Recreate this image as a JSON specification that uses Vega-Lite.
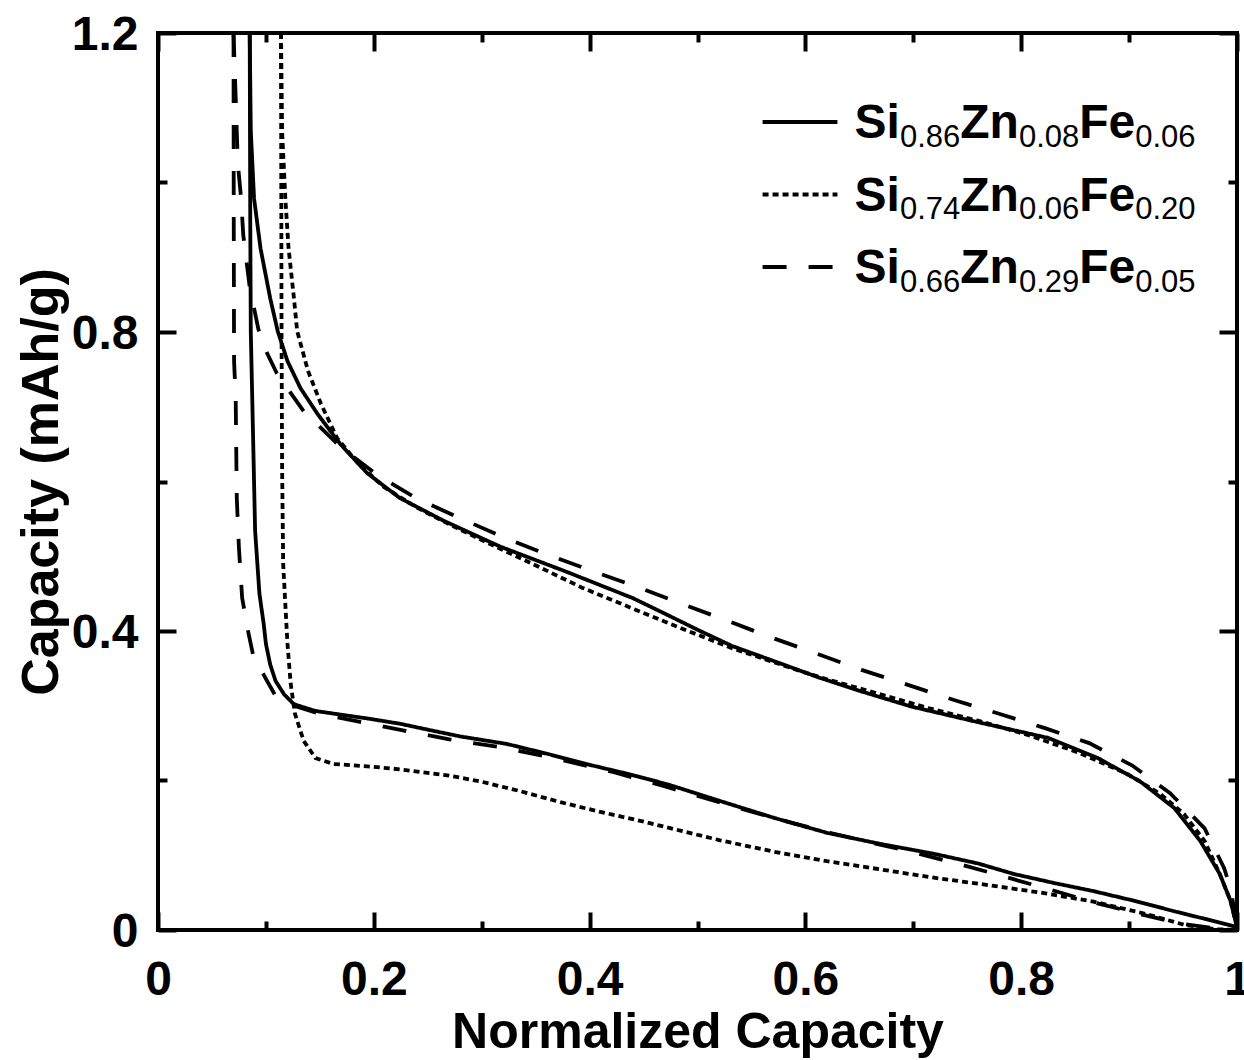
{
  "$schema": "https://vega.github.io/schema/vega-lite/v6.json",
  "width": 1079,
  "height": 897,
  "autosize": {"type": "none"},
  "padding": {"left": 158, "top": 33, "right": 7, "bottom": 130},
  "background": "white",
  "config": {
    "view": {"stroke": "black", "strokeWidth": 4},
    "font": "Liberation Sans",
    "axis": {
      "grid": false, "domain": false,
      "labelFont": "Liberation Sans", "labelFontWeight": "bold", "labelFontSize": 48, "labelColor": "black",
      "titleFont": "Liberation Sans", "titleFontWeight": "bold", "titleFontSize": 50, "titleColor": "black",
      "tickColor": "black", "tickWidth": 4, "labelFlush": false, "labelOverlap": false, "format": "~g"
    }
  },
  "datasets": {
    "curves": [
      {"series":"Si0.86Zn0.08Fe0.06","branch":"discharge","x":0.0850,"y":1.2},
      {"series":"Si0.86Zn0.08Fe0.06","branch":"discharge","x":0.0855,"y":0.95},
      {"series":"Si0.86Zn0.08Fe0.06","branch":"discharge","x":0.0860,"y":0.80},
      {"series":"Si0.86Zn0.08Fe0.06","branch":"discharge","x":0.0880,"y":0.668},
      {"series":"Si0.86Zn0.08Fe0.06","branch":"discharge","x":0.0900,"y":0.534},
      {"series":"Si0.86Zn0.08Fe0.06","branch":"discharge","x":0.0940,"y":0.45},
      {"series":"Si0.86Zn0.08Fe0.06","branch":"discharge","x":0.0980,"y":0.409},
      {"series":"Si0.86Zn0.08Fe0.06","branch":"discharge","x":0.1000,"y":0.383},
      {"series":"Si0.86Zn0.08Fe0.06","branch":"discharge","x":0.1040,"y":0.355},
      {"series":"Si0.86Zn0.08Fe0.06","branch":"discharge","x":0.1090,"y":0.333},
      {"series":"Si0.86Zn0.08Fe0.06","branch":"discharge","x":0.1170,"y":0.315},
      {"series":"Si0.86Zn0.08Fe0.06","branch":"discharge","x":0.1260,"y":0.302},
      {"series":"Si0.86Zn0.08Fe0.06","branch":"discharge","x":0.1460,"y":0.293},
      {"series":"Si0.86Zn0.08Fe0.06","branch":"discharge","x":0.1700,"y":0.288},
      {"series":"Si0.86Zn0.08Fe0.06","branch":"discharge","x":0.1940,"y":0.283},
      {"series":"Si0.86Zn0.08Fe0.06","branch":"discharge","x":0.2240,"y":0.276},
      {"series":"Si0.86Zn0.08Fe0.06","branch":"discharge","x":0.2500,"y":0.268},
      {"series":"Si0.86Zn0.08Fe0.06","branch":"discharge","x":0.2800,"y":0.259},
      {"series":"Si0.86Zn0.08Fe0.06","branch":"discharge","x":0.3230,"y":0.249},
      {"series":"Si0.86Zn0.08Fe0.06","branch":"discharge","x":0.3600,"y":0.236},
      {"series":"Si0.86Zn0.08Fe0.06","branch":"discharge","x":0.3970,"y":0.222},
      {"series":"Si0.86Zn0.08Fe0.06","branch":"discharge","x":0.4350,"y":0.209},
      {"series":"Si0.86Zn0.08Fe0.06","branch":"discharge","x":0.4720,"y":0.195},
      {"series":"Si0.86Zn0.08Fe0.06","branch":"discharge","x":0.5200,"y":0.173},
      {"series":"Si0.86Zn0.08Fe0.06","branch":"discharge","x":0.5710,"y":0.150},
      {"series":"Si0.86Zn0.08Fe0.06","branch":"discharge","x":0.6200,"y":0.130},
      {"series":"Si0.86Zn0.08Fe0.06","branch":"discharge","x":0.6700,"y":0.115},
      {"series":"Si0.86Zn0.08Fe0.06","branch":"discharge","x":0.7190,"y":0.102},
      {"series":"Si0.86Zn0.08Fe0.06","branch":"discharge","x":0.7600,"y":0.089},
      {"series":"Si0.86Zn0.08Fe0.06","branch":"discharge","x":0.7930,"y":0.075},
      {"series":"Si0.86Zn0.08Fe0.06","branch":"discharge","x":0.8300,"y":0.063},
      {"series":"Si0.86Zn0.08Fe0.06","branch":"discharge","x":0.8670,"y":0.052},
      {"series":"Si0.86Zn0.08Fe0.06","branch":"discharge","x":0.9050,"y":0.039},
      {"series":"Si0.86Zn0.08Fe0.06","branch":"discharge","x":0.9420,"y":0.025},
      {"series":"Si0.86Zn0.08Fe0.06","branch":"discharge","x":0.9700,"y":0.015},
      {"series":"Si0.86Zn0.08Fe0.06","branch":"discharge","x":1.0000,"y":0.004},
      {"series":"Si0.86Zn0.08Fe0.06","branch":"charge","x":0.0850,"y":1.2},
      {"series":"Si0.86Zn0.08Fe0.06","branch":"charge","x":0.0860,"y":1.069},
      {"series":"Si0.86Zn0.08Fe0.06","branch":"charge","x":0.0890,"y":0.979},
      {"series":"Si0.86Zn0.08Fe0.06","branch":"charge","x":0.0950,"y":0.912},
      {"series":"Si0.86Zn0.08Fe0.06","branch":"charge","x":0.1040,"y":0.845},
      {"series":"Si0.86Zn0.08Fe0.06","branch":"charge","x":0.1110,"y":0.801},
      {"series":"Si0.86Zn0.08Fe0.06","branch":"charge","x":0.1200,"y":0.761},
      {"series":"Si0.86Zn0.08Fe0.06","branch":"charge","x":0.1320,"y":0.725},
      {"series":"Si0.86Zn0.08Fe0.06","branch":"charge","x":0.1480,"y":0.690},
      {"series":"Si0.86Zn0.08Fe0.06","branch":"charge","x":0.1690,"y":0.650},
      {"series":"Si0.86Zn0.08Fe0.06","branch":"charge","x":0.1940,"y":0.611},
      {"series":"Si0.86Zn0.08Fe0.06","branch":"charge","x":0.2240,"y":0.578},
      {"series":"Si0.86Zn0.08Fe0.06","branch":"charge","x":0.2640,"y":0.548},
      {"series":"Si0.86Zn0.08Fe0.06","branch":"charge","x":0.3170,"y":0.513},
      {"series":"Si0.86Zn0.08Fe0.06","branch":"charge","x":0.3790,"y":0.479},
      {"series":"Si0.86Zn0.08Fe0.06","branch":"charge","x":0.4400,"y":0.444},
      {"series":"Si0.86Zn0.08Fe0.06","branch":"charge","x":0.4700,"y":0.423},
      {"series":"Si0.86Zn0.08Fe0.06","branch":"charge","x":0.5010,"y":0.401},
      {"series":"Si0.86Zn0.08Fe0.06","branch":"charge","x":0.5320,"y":0.380},
      {"series":"Si0.86Zn0.08Fe0.06","branch":"charge","x":0.5780,"y":0.356},
      {"series":"Si0.86Zn0.08Fe0.06","branch":"charge","x":0.6120,"y":0.338},
      {"series":"Si0.86Zn0.08Fe0.06","branch":"charge","x":0.6500,"y":0.320},
      {"series":"Si0.86Zn0.08Fe0.06","branch":"charge","x":0.6980,"y":0.299},
      {"series":"Si0.86Zn0.08Fe0.06","branch":"charge","x":0.7600,"y":0.278},
      {"series":"Si0.86Zn0.08Fe0.06","branch":"charge","x":0.8250,"y":0.257},
      {"series":"Si0.86Zn0.08Fe0.06","branch":"charge","x":0.8710,"y":0.230},
      {"series":"Si0.86Zn0.08Fe0.06","branch":"charge","x":0.9100,"y":0.199},
      {"series":"Si0.86Zn0.08Fe0.06","branch":"charge","x":0.9420,"y":0.163},
      {"series":"Si0.86Zn0.08Fe0.06","branch":"charge","x":0.9660,"y":0.119},
      {"series":"Si0.86Zn0.08Fe0.06","branch":"charge","x":0.9840,"y":0.075},
      {"series":"Si0.86Zn0.08Fe0.06","branch":"charge","x":0.9940,"y":0.039},
      {"series":"Si0.86Zn0.08Fe0.06","branch":"charge","x":1.0000,"y":0.004},
      {"series":"Si0.74Zn0.06Fe0.20","branch":"discharge","x":0.1140,"y":1.2},
      {"series":"Si0.74Zn0.06Fe0.20","branch":"discharge","x":0.1145,"y":0.80},
      {"series":"Si0.74Zn0.06Fe0.20","branch":"discharge","x":0.1150,"y":0.623},
      {"series":"Si0.74Zn0.06Fe0.20","branch":"discharge","x":0.1160,"y":0.49},
      {"series":"Si0.74Zn0.06Fe0.20","branch":"discharge","x":0.1190,"y":0.409},
      {"series":"Si0.74Zn0.06Fe0.20","branch":"discharge","x":0.1200,"y":0.383},
      {"series":"Si0.74Zn0.06Fe0.20","branch":"discharge","x":0.1230,"y":0.329},
      {"series":"Si0.74Zn0.06Fe0.20","branch":"discharge","x":0.1270,"y":0.289},
      {"series":"Si0.74Zn0.06Fe0.20","branch":"discharge","x":0.1350,"y":0.253},
      {"series":"Si0.74Zn0.06Fe0.20","branch":"discharge","x":0.1460,"y":0.230},
      {"series":"Si0.74Zn0.06Fe0.20","branch":"discharge","x":0.1630,"y":0.222},
      {"series":"Si0.74Zn0.06Fe0.20","branch":"discharge","x":0.1940,"y":0.219},
      {"series":"Si0.74Zn0.06Fe0.20","branch":"discharge","x":0.2240,"y":0.215},
      {"series":"Si0.74Zn0.06Fe0.20","branch":"discharge","x":0.2680,"y":0.207},
      {"series":"Si0.74Zn0.06Fe0.20","branch":"discharge","x":0.2980,"y":0.199},
      {"series":"Si0.74Zn0.06Fe0.20","branch":"discharge","x":0.3350,"y":0.186},
      {"series":"Si0.74Zn0.06Fe0.20","branch":"discharge","x":0.3730,"y":0.171},
      {"series":"Si0.74Zn0.06Fe0.20","branch":"discharge","x":0.4100,"y":0.158},
      {"series":"Si0.74Zn0.06Fe0.20","branch":"discharge","x":0.4470,"y":0.146},
      {"series":"Si0.74Zn0.06Fe0.20","branch":"discharge","x":0.4840,"y":0.133},
      {"series":"Si0.74Zn0.06Fe0.20","branch":"discharge","x":0.5210,"y":0.120},
      {"series":"Si0.74Zn0.06Fe0.20","branch":"discharge","x":0.5700,"y":0.105},
      {"series":"Si0.74Zn0.06Fe0.20","branch":"discharge","x":0.6200,"y":0.092},
      {"series":"Si0.74Zn0.06Fe0.20","branch":"discharge","x":0.6700,"y":0.081},
      {"series":"Si0.74Zn0.06Fe0.20","branch":"discharge","x":0.7190,"y":0.070},
      {"series":"Si0.74Zn0.06Fe0.20","branch":"discharge","x":0.7700,"y":0.060},
      {"series":"Si0.74Zn0.06Fe0.20","branch":"discharge","x":0.8180,"y":0.050},
      {"series":"Si0.74Zn0.06Fe0.20","branch":"discharge","x":0.8670,"y":0.038},
      {"series":"Si0.74Zn0.06Fe0.20","branch":"discharge","x":0.9170,"y":0.021},
      {"series":"Si0.74Zn0.06Fe0.20","branch":"discharge","x":0.9510,"y":0.007},
      {"series":"Si0.74Zn0.06Fe0.20","branch":"discharge","x":0.9800,"y":0.001},
      {"series":"Si0.74Zn0.06Fe0.20","branch":"discharge","x":1.0000,"y":0.000},
      {"series":"Si0.74Zn0.06Fe0.20","branch":"charge","x":0.1140,"y":1.2},
      {"series":"Si0.74Zn0.06Fe0.20","branch":"charge","x":0.1150,"y":1.069},
      {"series":"Si0.74Zn0.06Fe0.20","branch":"charge","x":0.1180,"y":0.979},
      {"series":"Si0.74Zn0.06Fe0.20","branch":"charge","x":0.1210,"y":0.912},
      {"series":"Si0.74Zn0.06Fe0.20","branch":"charge","x":0.1260,"y":0.845},
      {"series":"Si0.74Zn0.06Fe0.20","branch":"charge","x":0.1290,"y":0.801},
      {"series":"Si0.74Zn0.06Fe0.20","branch":"charge","x":0.1390,"y":0.748},
      {"series":"Si0.74Zn0.06Fe0.20","branch":"charge","x":0.1510,"y":0.704},
      {"series":"Si0.74Zn0.06Fe0.20","branch":"charge","x":0.1660,"y":0.658},
      {"series":"Si0.74Zn0.06Fe0.20","branch":"charge","x":0.1850,"y":0.625},
      {"series":"Si0.74Zn0.06Fe0.20","branch":"charge","x":0.2090,"y":0.593},
      {"series":"Si0.74Zn0.06Fe0.20","branch":"charge","x":0.2400,"y":0.565},
      {"series":"Si0.74Zn0.06Fe0.20","branch":"charge","x":0.2710,"y":0.542},
      {"series":"Si0.74Zn0.06Fe0.20","branch":"charge","x":0.3010,"y":0.521},
      {"series":"Si0.74Zn0.06Fe0.20","branch":"charge","x":0.3540,"y":0.485},
      {"series":"Si0.74Zn0.06Fe0.20","branch":"charge","x":0.3930,"y":0.458},
      {"series":"Si0.74Zn0.06Fe0.20","branch":"charge","x":0.4400,"y":0.430},
      {"series":"Si0.74Zn0.06Fe0.20","branch":"charge","x":0.4860,"y":0.403},
      {"series":"Si0.74Zn0.06Fe0.20","branch":"charge","x":0.5320,"y":0.377},
      {"series":"Si0.74Zn0.06Fe0.20","branch":"charge","x":0.5630,"y":0.362},
      {"series":"Si0.74Zn0.06Fe0.20","branch":"charge","x":0.5940,"y":0.347},
      {"series":"Si0.74Zn0.06Fe0.20","branch":"charge","x":0.6210,"y":0.335},
      {"series":"Si0.74Zn0.06Fe0.20","branch":"charge","x":0.6680,"y":0.316},
      {"series":"Si0.74Zn0.06Fe0.20","branch":"charge","x":0.7140,"y":0.297},
      {"series":"Si0.74Zn0.06Fe0.20","branch":"charge","x":0.7600,"y":0.280},
      {"series":"Si0.74Zn0.06Fe0.20","branch":"charge","x":0.8060,"y":0.261},
      {"series":"Si0.74Zn0.06Fe0.20","branch":"charge","x":0.8520,"y":0.238},
      {"series":"Si0.74Zn0.06Fe0.20","branch":"charge","x":0.8980,"y":0.209},
      {"series":"Si0.74Zn0.06Fe0.20","branch":"charge","x":0.9290,"y":0.182},
      {"series":"Si0.74Zn0.06Fe0.20","branch":"charge","x":0.9510,"y":0.155},
      {"series":"Si0.74Zn0.06Fe0.20","branch":"charge","x":0.9700,"y":0.119},
      {"series":"Si0.74Zn0.06Fe0.20","branch":"charge","x":0.9840,"y":0.075},
      {"series":"Si0.74Zn0.06Fe0.20","branch":"charge","x":0.9940,"y":0.039},
      {"series":"Si0.74Zn0.06Fe0.20","branch":"charge","x":1.0000,"y":0.003},
      {"series":"Si0.66Zn0.29Fe0.05","branch":"discharge","x":0.0700,"y":1.2},
      {"series":"Si0.66Zn0.29Fe0.05","branch":"discharge","x":0.0702,"y":0.95},
      {"series":"Si0.66Zn0.29Fe0.05","branch":"discharge","x":0.0705,"y":0.761},
      {"series":"Si0.66Zn0.29Fe0.05","branch":"discharge","x":0.0720,"y":0.712},
      {"series":"Si0.66Zn0.29Fe0.05","branch":"discharge","x":0.0730,"y":0.578},
      {"series":"Si0.66Zn0.29Fe0.05","branch":"discharge","x":0.0750,"y":0.511},
      {"series":"Si0.66Zn0.29Fe0.05","branch":"discharge","x":0.0780,"y":0.444},
      {"series":"Si0.66Zn0.29Fe0.05","branch":"discharge","x":0.0840,"y":0.396},
      {"series":"Si0.66Zn0.29Fe0.05","branch":"discharge","x":0.0880,"y":0.369},
      {"series":"Si0.66Zn0.29Fe0.05","branch":"discharge","x":0.1000,"y":0.336},
      {"series":"Si0.66Zn0.29Fe0.05","branch":"discharge","x":0.1090,"y":0.313},
      {"series":"Si0.66Zn0.29Fe0.05","branch":"discharge","x":0.1260,"y":0.300},
      {"series":"Si0.66Zn0.29Fe0.05","branch":"discharge","x":0.1500,"y":0.289},
      {"series":"Si0.66Zn0.29Fe0.05","branch":"discharge","x":0.1850,"y":0.279},
      {"series":"Si0.66Zn0.29Fe0.05","branch":"discharge","x":0.2270,"y":0.267},
      {"series":"Si0.66Zn0.29Fe0.05","branch":"discharge","x":0.2700,"y":0.255},
      {"series":"Si0.66Zn0.29Fe0.05","branch":"discharge","x":0.3200,"y":0.244},
      {"series":"Si0.66Zn0.29Fe0.05","branch":"discharge","x":0.3700,"y":0.229},
      {"series":"Si0.66Zn0.29Fe0.05","branch":"discharge","x":0.4200,"y":0.212},
      {"series":"Si0.66Zn0.29Fe0.05","branch":"discharge","x":0.4700,"y":0.192},
      {"series":"Si0.66Zn0.29Fe0.05","branch":"discharge","x":0.5200,"y":0.171},
      {"series":"Si0.66Zn0.29Fe0.05","branch":"discharge","x":0.5700,"y":0.150},
      {"series":"Si0.66Zn0.29Fe0.05","branch":"discharge","x":0.6200,"y":0.131},
      {"series":"Si0.66Zn0.29Fe0.05","branch":"discharge","x":0.6700,"y":0.114},
      {"series":"Si0.66Zn0.29Fe0.05","branch":"discharge","x":0.7000,"y":0.104},
      {"series":"Si0.66Zn0.29Fe0.05","branch":"discharge","x":0.7430,"y":0.088},
      {"series":"Si0.66Zn0.29Fe0.05","branch":"discharge","x":0.7830,"y":0.072},
      {"series":"Si0.66Zn0.29Fe0.05","branch":"discharge","x":0.8270,"y":0.054},
      {"series":"Si0.66Zn0.29Fe0.05","branch":"discharge","x":0.8670,"y":0.037},
      {"series":"Si0.66Zn0.29Fe0.05","branch":"discharge","x":0.9110,"y":0.021},
      {"series":"Si0.66Zn0.29Fe0.05","branch":"discharge","x":0.9460,"y":0.009},
      {"series":"Si0.66Zn0.29Fe0.05","branch":"discharge","x":0.9800,"y":0.002},
      {"series":"Si0.66Zn0.29Fe0.05","branch":"discharge","x":1.0000,"y":0.000},
      {"series":"Si0.66Zn0.29Fe0.05","branch":"charge","x":0.0700,"y":1.2},
      {"series":"Si0.66Zn0.29Fe0.05","branch":"charge","x":0.0720,"y":1.113},
      {"series":"Si0.66Zn0.29Fe0.05","branch":"charge","x":0.0740,"y":1.025},
      {"series":"Si0.66Zn0.29Fe0.05","branch":"charge","x":0.0770,"y":0.979},
      {"series":"Si0.66Zn0.29Fe0.05","branch":"charge","x":0.0790,"y":0.930},
      {"series":"Si0.66Zn0.29Fe0.05","branch":"charge","x":0.0850,"y":0.860},
      {"series":"Si0.66Zn0.29Fe0.05","branch":"charge","x":0.0930,"y":0.804},
      {"series":"Si0.66Zn0.29Fe0.05","branch":"charge","x":0.1000,"y":0.775},
      {"series":"Si0.66Zn0.29Fe0.05","branch":"charge","x":0.1100,"y":0.745},
      {"series":"Si0.66Zn0.29Fe0.05","branch":"charge","x":0.1350,"y":0.694},
      {"series":"Si0.66Zn0.29Fe0.05","branch":"charge","x":0.1700,"y":0.645},
      {"series":"Si0.66Zn0.29Fe0.05","branch":"charge","x":0.2030,"y":0.609},
      {"series":"Si0.66Zn0.29Fe0.05","branch":"charge","x":0.2400,"y":0.577},
      {"series":"Si0.66Zn0.29Fe0.05","branch":"charge","x":0.2800,"y":0.551},
      {"series":"Si0.66Zn0.29Fe0.05","branch":"charge","x":0.3190,"y":0.526},
      {"series":"Si0.66Zn0.29Fe0.05","branch":"charge","x":0.3630,"y":0.501},
      {"series":"Si0.66Zn0.29Fe0.05","branch":"charge","x":0.4030,"y":0.480},
      {"series":"Si0.66Zn0.29Fe0.05","branch":"charge","x":0.4460,"y":0.458},
      {"series":"Si0.66Zn0.29Fe0.05","branch":"charge","x":0.4860,"y":0.436},
      {"series":"Si0.66Zn0.29Fe0.05","branch":"charge","x":0.5290,"y":0.413},
      {"series":"Si0.66Zn0.29Fe0.05","branch":"charge","x":0.5690,"y":0.391},
      {"series":"Si0.66Zn0.29Fe0.05","branch":"charge","x":0.6120,"y":0.369},
      {"series":"Si0.66Zn0.29Fe0.05","branch":"charge","x":0.6520,"y":0.348},
      {"series":"Si0.66Zn0.29Fe0.05","branch":"charge","x":0.6950,"y":0.328},
      {"series":"Si0.66Zn0.29Fe0.05","branch":"charge","x":0.7370,"y":0.308},
      {"series":"Si0.66Zn0.29Fe0.05","branch":"charge","x":0.7780,"y":0.290},
      {"series":"Si0.66Zn0.29Fe0.05","branch":"charge","x":0.8220,"y":0.270},
      {"series":"Si0.66Zn0.29Fe0.05","branch":"charge","x":0.8630,"y":0.250},
      {"series":"Si0.66Zn0.29Fe0.05","branch":"charge","x":0.9030,"y":0.220},
      {"series":"Si0.66Zn0.29Fe0.05","branch":"charge","x":0.9380,"y":0.183},
      {"series":"Si0.66Zn0.29Fe0.05","branch":"charge","x":0.9700,"y":0.136},
      {"series":"Si0.66Zn0.29Fe0.05","branch":"charge","x":0.9880,"y":0.083},
      {"series":"Si0.66Zn0.29Fe0.05","branch":"charge","x":0.9940,"y":0.056},
      {"series":"Si0.66Zn0.29Fe0.05","branch":"charge","x":1.0000,"y":0.005}
    ],
    "legend": [
      {"series":"Si0.86Zn0.08Fe0.06","si":"0.86","zn":"0.08","fe":"0.06"},
      {"series":"Si0.74Zn0.06Fe0.20","si":"0.74","zn":"0.06","fe":"0.20"},
      {"series":"Si0.66Zn0.29Fe0.05","si":"0.66","zn":"0.29","fe":"0.05"}
    ]
  },
  "data": {"name": "curves"},
  "resolve": {"scale": {"y": "independent"}, "axis": {"x": "independent", "y": "independent"}},
  "layer": [
    {
      "mark": {"type": "line", "strokeWidth": 3.8, "color": "black", "strokeCap": "butt"},
      "encoding": {
        "x": {"field": "x", "type": "quantitative", "scale": {"domain": [0, 1], "nice": false},
              "axis": {"orient": "bottom", "values": [0, 0.2, 0.4, 0.6, 0.8, 1], "ticks": false, "labelPadding": 26,
                       "title": "Normalized Capacity", "titleX": 539.5, "titleY": 117, "titleBaseline": "alphabetic"}},
        "y": {"field": "y", "type": "quantitative", "scale": {"domain": [0, 1.2], "nice": false},
              "axis": {"orient": "left", "values": [0, 0.4, 0.8, 1.2], "ticks": false, "labelPadding": 20, "labelOffset": 2,
                       "title": "Capacity (mAh/g)", "titleFontSize": 52, "titleX": -101, "titleY": 448.5, "titleBaseline": "alphabetic"}},
        "detail": {"field": "branch", "type": "nominal"},
        "strokeDash": {"field": "series", "type": "nominal",
                       "scale": {"domain": ["Si0.86Zn0.08Fe0.06", "Si0.74Zn0.06Fe0.20", "Si0.66Zn0.29Fe0.05"],
                                 "range": [[1, 0], [6, 4], [24, 22]]},
                       "legend": null}
      }
    },
    {
      "mark": {"type": "point", "opacity": 0},
      "encoding": {
        "x": {"field": "x", "aggregate": "min", "type": "quantitative", "scale": {"domain": [0, 1], "nice": false},
              "axis": {"orient": "bottom", "values": [0, 0.2, 0.4, 0.6, 0.8, 1], "labels": false, "tickSize": -18, "title": null}},
        "y": {"field": "y", "aggregate": "min", "type": "quantitative", "scale": {"domain": [0, 1.2], "nice": false},
              "axis": {"orient": "left", "values": [0, 0.4, 0.8, 1.2], "labels": false, "tickSize": -18, "title": null}}
      }
    },
    {
      "mark": {"type": "point", "opacity": 0},
      "encoding": {
        "x": {"field": "x", "aggregate": "min", "type": "quantitative", "scale": {"domain": [0, 1], "nice": false},
              "axis": {"orient": "bottom", "values": [0.1, 0.3, 0.5, 0.7, 0.9], "labels": false, "tickSize": -9, "title": null}},
        "y": {"field": "y", "aggregate": "min", "type": "quantitative", "scale": {"domain": [0, 1.2], "nice": false},
              "axis": {"orient": "left", "values": [0.2, 0.6, 1.0], "labels": false, "tickSize": -9, "title": null}}
      }
    },
    {
      "mark": {"type": "point", "opacity": 0},
      "encoding": {
        "x": {"field": "x", "aggregate": "min", "type": "quantitative", "scale": {"domain": [0, 1], "nice": false},
              "axis": {"orient": "top", "values": [0, 0.2, 0.4, 0.6, 0.8, 1], "labels": false, "tickSize": -18, "title": null}},
        "y": {"field": "y", "aggregate": "min", "type": "quantitative", "scale": {"domain": [0, 1.2], "nice": false},
              "axis": {"orient": "right", "values": [0, 0.4, 0.8, 1.2], "labels": false, "tickSize": -18, "title": null}}
      }
    },
    {
      "mark": {"type": "point", "opacity": 0},
      "encoding": {
        "x": {"field": "x", "aggregate": "min", "type": "quantitative", "scale": {"domain": [0, 1], "nice": false},
              "axis": {"orient": "top", "values": [0.1, 0.3, 0.5, 0.7, 0.9], "labels": false, "tickSize": -9, "title": null}},
        "y": {"field": "y", "aggregate": "min", "type": "quantitative", "scale": {"domain": [0, 1.2], "nice": false},
              "axis": {"orient": "right", "values": [0.2, 0.6, 1.0], "labels": false, "tickSize": -9, "title": null}}
      }
    },
    {
      "data": {"name": "legend"},
      "encoding": {
        "y": {"field": "series", "type": "nominal", "axis": null,
              "scale": {"type": "point", "domain": ["Si0.86Zn0.08Fe0.06", "Si0.74Zn0.06Fe0.20", "Si0.66Zn0.29Fe0.05"],
                        "range": [89, 234], "padding": 0}}
      },
      "layer": [
        {
          "mark": {"type": "rule", "strokeWidth": 3.8, "color": "black", "strokeCap": "butt"},
          "encoding": {
            "x": {"datum": 0.5603, "type": "quantitative", "axis": null},
            "x2": {"datum": 0.6297},
            "strokeDash": {"field": "series", "type": "nominal",
                           "scale": {"domain": ["Si0.86Zn0.08Fe0.06", "Si0.74Zn0.06Fe0.20", "Si0.66Zn0.29Fe0.05"],
                                     "range": [[1, 0], [6, 4], [24, 22]]},
                           "legend": null}
          }
        },
        {
          "mark": {"type": "text", "text": "Si", "align": "left", "baseline": "alphabetic", "dx": 0, "dy": 16,
                   "font": "Liberation Sans", "fontSize": 48, "fontWeight": "bold", "color": "black"},
          "encoding": {"x": {"datum": 0.6455, "type": "quantitative", "axis": null}}
        },
        {
          "mark": {"type": "text", "align": "left", "baseline": "alphabetic", "dx": 45.4, "dy": 24.5,
                   "font": "Liberation Sans", "fontSize": 31, "fontWeight": "normal", "color": "black"},
          "encoding": {"x": {"datum": 0.6455, "type": "quantitative", "axis": null}, "text": {"field": "si"}}
        },
        {
          "mark": {"type": "text", "text": "Zn", "align": "left", "baseline": "alphabetic", "dx": 105.7, "dy": 16,
                   "font": "Liberation Sans", "fontSize": 48, "fontWeight": "bold", "color": "black"},
          "encoding": {"x": {"datum": 0.6455, "type": "quantitative", "axis": null}}
        },
        {
          "mark": {"type": "text", "align": "left", "baseline": "alphabetic", "dx": 164.4, "dy": 24.5,
                   "font": "Liberation Sans", "fontSize": 31, "fontWeight": "normal", "color": "black"},
          "encoding": {"x": {"datum": 0.6455, "type": "quantitative", "axis": null}, "text": {"field": "zn"}}
        },
        {
          "mark": {"type": "text", "text": "Fe", "align": "left", "baseline": "alphabetic", "dx": 224.7, "dy": 16,
                   "font": "Liberation Sans", "fontSize": 48, "fontWeight": "bold", "color": "black"},
          "encoding": {"x": {"datum": 0.6455, "type": "quantitative", "axis": null}}
        },
        {
          "mark": {"type": "text", "align": "left", "baseline": "alphabetic", "dx": 280.7, "dy": 24.5,
                   "font": "Liberation Sans", "fontSize": 31, "fontWeight": "normal", "color": "black"},
          "encoding": {"x": {"datum": 0.6455, "type": "quantitative", "axis": null}, "text": {"field": "fe"}}
        }
      ]
    }
  ]
}
